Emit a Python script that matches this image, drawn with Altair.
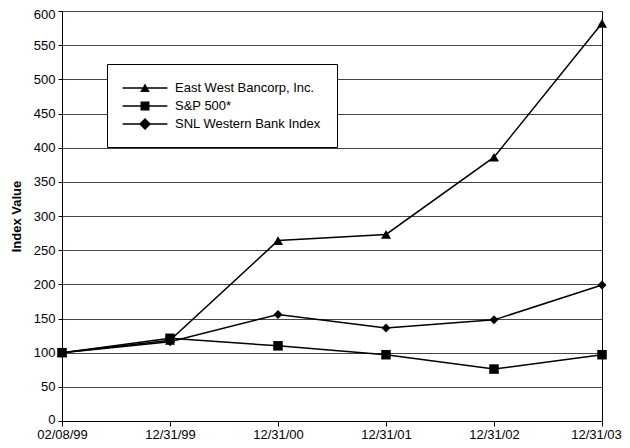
import altair as alt
import pandas as pd

dates = ["02/08/99", "12/31/99", "12/31/00", "12/31/01", "12/31/02", "12/31/03"]
series_names = ["East West Bancorp, Inc.", "S&P 500*", "SNL Western Bank Index"]
ewbc = [100, 118, 264, 273, 386, 582]
sp500 = [100, 121, 110, 97, 76, 97]
snl = [100, 116, 156, 136, 148, 199]
y_ticks = list(range(0, 601, 50))

rows = []
for name, vals in zip(series_names, [ewbc, sp500, snl]):
    for d, v in zip(dates, vals):
        rows.append({"date": d, "series": name, "value": v})
df = pd.DataFrame(rows)

FONT = "Liberation Sans"

x = alt.X(
    "date:O",
    sort=dates,
    scale=alt.Scale(type="point", padding=0),
    axis=alt.Axis(
        title=None, labelAngle=0, labelFont=FONT, labelFontSize=13, labelColor="black",
        domainColor="black", tickColor="black", tickSize=5, labelPadding=2,
        labelFlush=False,
        labelOffset={"condition": {"test": "datum.value == '12/31/03'", "value": -6}, "value": 0},
    ),
)
y = alt.Y(
    "value:Q",
    scale=alt.Scale(domain=[0, 600], nice=False, zero=True),
    axis=alt.Axis(
        values=y_ticks, title="Index Value", titleFont=FONT, titleFontSize=13,
        titleFontWeight="bold", titleColor="black", titleX=-46, titleY=205,
        titleBaseline="middle", titleAlign="center", titleAngle=-90,
        labelFont=FONT, labelFontSize=13, labelColor="black", labelPadding=3,
        domainColor="black", tickColor="black", tickSize=4,
        gridColor="#444444", gridWidth=1, labelFlush=False,
        labelOffset={"condition": [{"test": "datum.value == 600", "value": 3},
                                   {"test": "datum.value == 0", "value": -2}],
                     "value": 0},
    ),
)

# legend glyphs: a filled thin bar (the line) plus the marker, same winding
legend_paths = [
    "M-2.8,-0.09H2.8V0.09H-2.8ZM0,-0.55L0.6,0.5L-0.6,0.5Z",
    "M-2.8,-0.09H2.8V0.09H-2.8ZM-0.56,-0.56H0.56V0.56H-0.56Z",
    "M-2.8,-0.09H2.8V0.09H-2.8ZM0,-0.75L0.75,0L0,0.75L-0.75,0Z",
]

base = alt.Chart(df)
lines = base.mark_line(color="black", strokeWidth=1.5).encode(x=x, y=y, detail="series:N")
pts = base.mark_point(filled=True, color="black", opacity=1).encode(
    x=x, y=y,
    shape=alt.Shape("series:N", scale=alt.Scale(domain=series_names,
                    range=["triangle-up", "square", "diamond"]), legend=None),
    size=alt.Size("series:N", scale=alt.Scale(domain=series_names, range=[100, 81, 130]),
                  legend=None),
)
leg = base.mark_point(filled=True, color="black", opacity=0).encode(
    x=x, y=y,
    shape=alt.Shape(
        "series:N",
        scale=alt.Scale(domain=series_names, range=legend_paths),
        legend=alt.Legend(
            title=None, orient="none", legendX=45, legendY=53,
            padding=16, fillColor="white", strokeColor="black",
            symbolSize=256, symbolStrokeWidth=0,
            symbolFillColor="black", symbolOpacity=1, symbolOffset=14,
            labelOffset=22, labelFont=FONT, labelFontSize=13, labelColor="black",
            labelLimit=400, rowPadding=3,
        ),
    ),
)

chart = (
    alt.layer(lines, pts, leg)
    .resolve_scale(shape="independent", size="independent")
    .properties(
        width=540, height=410,
        autosize=alt.AutoSizeParams(type="none"),
        padding={"left": 54, "top": 3, "right": 20, "bottom": 19},
        background="white",
    )
    .configure_view(stroke="black", strokeWidth=1)
)

chart.save("out.html", embed_options={"renderer": "svg", "actions": False})
